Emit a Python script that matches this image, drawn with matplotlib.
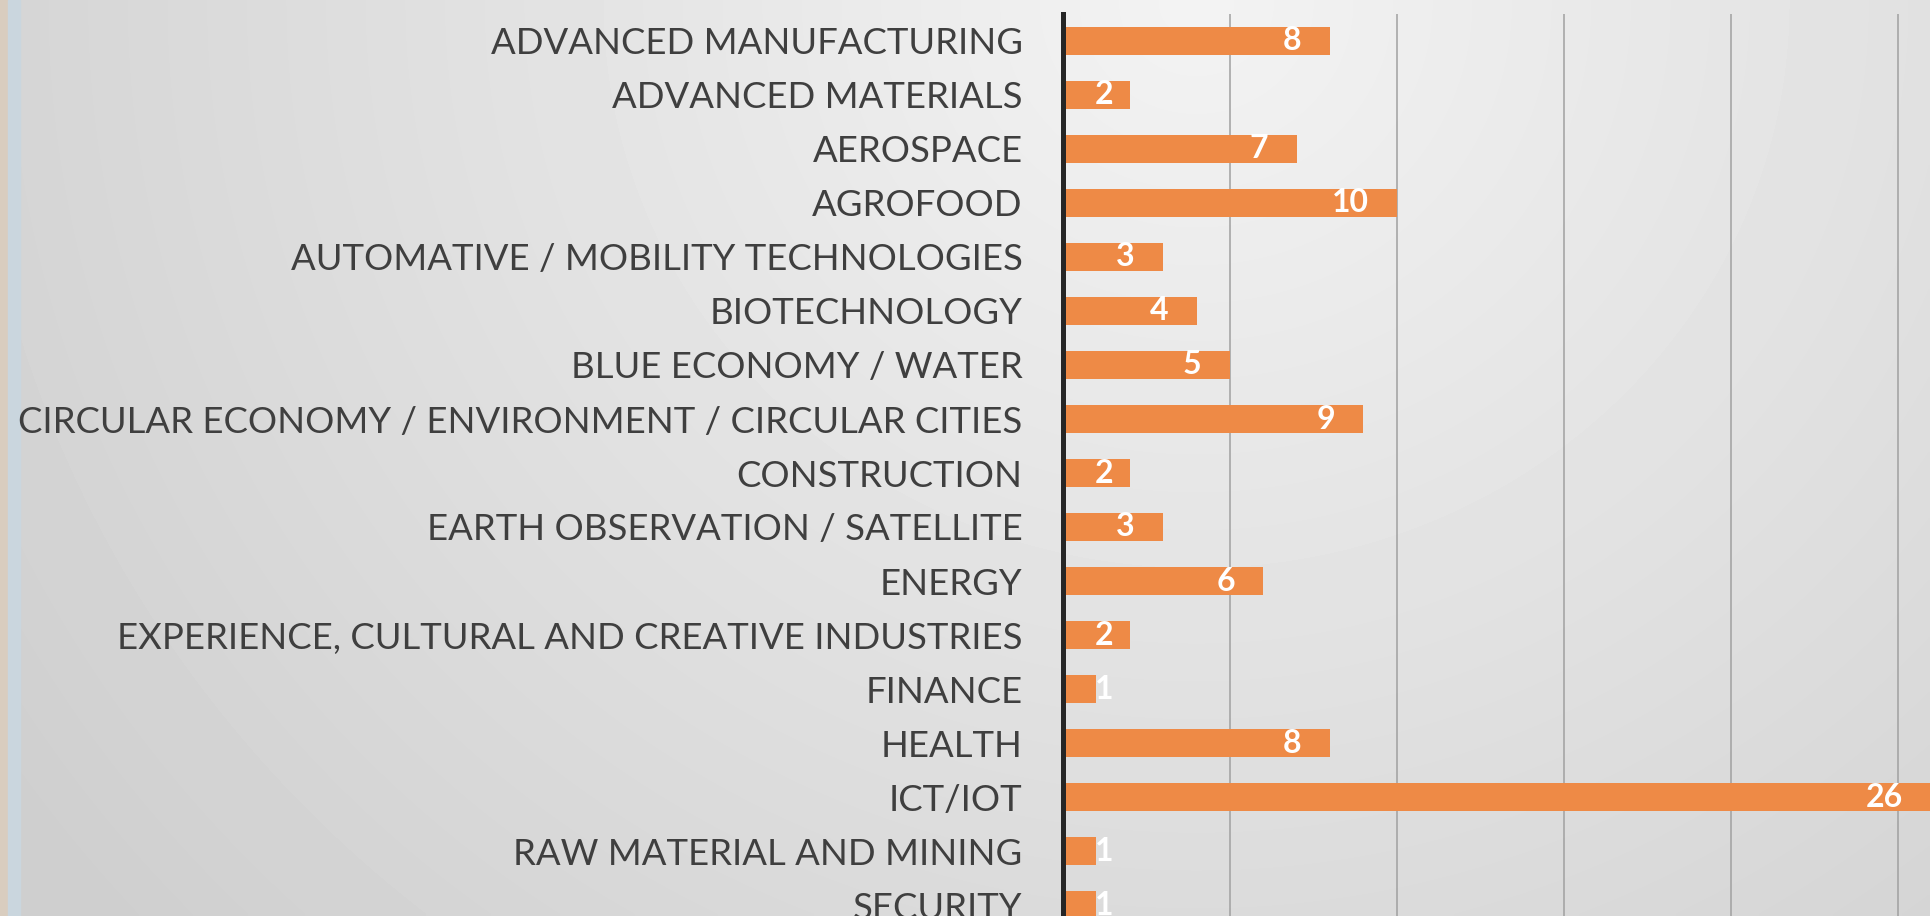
"""Horizontal bar chart: number of companies per sector."""

import numpy as np
import matplotlib
matplotlib.use("Agg")
import matplotlib.pyplot as plt

# ── Data ──────────────────────────────────────────────────────────────────────
sectors = [
    "ADVANCED MANUFACTURING",
    "ADVANCED MATERIALS",
    "AEROSPACE",
    "AGROFOOD",
    "AUTOMATIVE / MOBILITY TECHNOLOGIES",
    "BIOTECHNOLOGY",
    "BLUE ECONOMY / WATER",
    "CIRCULAR ECONOMY / ENVIRONMENT / CIRCULAR CITIES",
    "CONSTRUCTION",
    "EARTH OBSERVATION / SATELLITE",
    "ENERGY",
    "EXPERIENCE, CULTURAL AND CREATIVE INDUSTRIES",
    "FINANCE",
    "HEALTH",
    "ICT/IOT",
    "RAW MATERIAL AND MINING",
    "SECURITY",
]
counts = [8, 2, 7, 10, 3, 4, 5, 9, 2, 3, 6, 2, 1, 8, 26, 1, 1]
grid_ticks = [5, 10, 15, 20, 25]

# ── Style ─────────────────────────────────────────────────────────────────────
C_BAR = "#EE8A46"
C_TEXT = "#3F3F3F"
C_AXIS = "#262626"
C_GRID = "#A0A0A0"
FONT = "Lato"

W, H = 1931, 916
fig = plt.figure(figsize=(W / 100, H / 100), dpi=100)

# radial grey background
bg = fig.add_axes([0, 0, 1, 1], zorder=-5)
xx, yy = np.meshgrid(np.linspace(0, 1, 400), np.linspace(0, 1, 200))
r = np.sqrt(((xx - 0.62) / 0.62) ** 2 + (yy / 1.25) ** 2)
shade = (243 - 30 * np.clip(r, 0, 1.2)) / 255
bg.imshow(shade, cmap="gray", vmin=0, vmax=1, aspect="auto",
          extent=[0, 1, 1, 0], interpolation="bilinear")
# thin coloured strip at the far left edge
bg.axvspan(0, 8 / W, color="#D9CDBF")
bg.axvspan(8 / W, 20 / W, color="#CAD6DE")
bg.set_xlim(0, 1)
bg.set_ylim(1, 0)
bg.axis("off")

# main axes
x0 = 1063 / W
ax = fig.add_axes([x0, 0, 1 - x0, 1])
ax.set_facecolor("none")

y = np.arange(len(sectors))
ax.barh(y, counts, height=0.53, color=C_BAR, zorder=3)

ax.set_xlim(0, 26.0)
ax.set_ylim(875 / 54, -41 / 54)

for g in grid_ticks:
    ax.vlines(g, -0.5, 875 / 54, color=C_GRID, lw=1.1, zorder=1)

for s in ["top", "right", "bottom"]:
    ax.spines[s].set_visible(False)
ax.spines["left"].set_bounds(-0.5, 875 / 54)
ax.spines["left"].set_color(C_AXIS)
ax.spines["left"].set_linewidth(3.6)
ax.spines["left"].set_zorder(4)

ax.set_xticks([])
ax.set_yticks(y, sectors)
ax.tick_params(axis="y", length=0, pad=29)
for lbl in ax.get_yticklabels():
    lbl.set_fontfamily(FONT)
    lbl.set_fontsize(26.3)
    lbl.set_color(C_TEXT)

# value labels inside the bar end
for yi, v in zip(y, counts):
    ax.text(max(v - 0.85, 1.5), yi, str(v), ha="right", va="center",
            fontsize=23, color="white", fontfamily=FONT, fontweight="bold",
            zorder=5)

fig.savefig("out.png", dpi=100)
plt.close()
